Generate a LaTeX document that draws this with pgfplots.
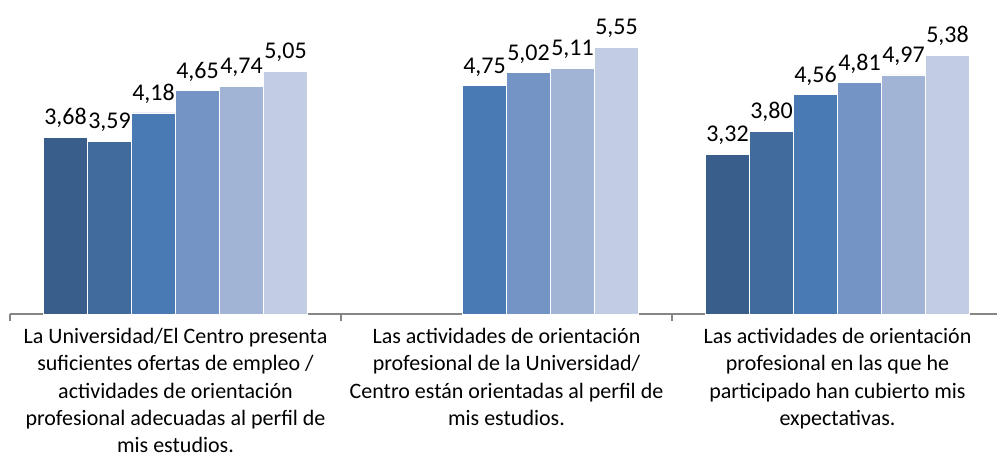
\documentclass[border=0pt]{standalone}
\usepackage{pgfplots}
\pgfplotsset{compat=1.18}
\usepackage{fontspec}
\setmainfont{Carlito}

\definecolor{c1}{HTML}{3A5E8B}
\definecolor{c2}{HTML}{416A9D}
\definecolor{c3}{HTML}{4A7AB4}
\definecolor{c4}{HTML}{7594C6}
\definecolor{c5}{HTML}{A1B4D6}
\definecolor{c6}{HTML}{C2CDE3}
\definecolor{axgray}{HTML}{868686}

\begin{document}
\begin{tikzpicture}
\begin{axis}[
  at={(5pt,73.5pt)}, anchor=south west,
  scale only axis,
  width=496.5pt, height=156.3pt,
  ybar=0pt, bar width=22pt,
  xmin=-0.5, xmax=2.5, ymin=0, ymax=6.5,
  enlarge x limits=false,
  axis x line*=bottom, axis y line=none,
  axis line style={axgray, line width=0.8pt},
  xtick={0,1,2},
  xticklabels={
    {La Universidad/El Centro presenta\\suficientes ofertas de empleo /\\actividades de orientación\\profesional adecuadas al perfil de\\mis estudios.},
    {Las actividades de orientación\\profesional de la Universidad/\\Centro están orientadas al perfil de\\mis estudios.},
    {Las actividades de orientación\\profesional en las que he\\participado han cubierto mis\\expectativas.}},
  major tick length=0pt,
  minor xtick={-0.5,0.5,1.5,2.5},
  minor tick length=3.5pt,
  tick align=outside,
  minor tick style={axgray, line width=0.6pt},
  xticklabel style={align=center, font=\fontsize{11}{13.6}\selectfont, yshift=-6pt, inner sep=1pt},
  ytick=\empty,
  clip=false,
  nodes near coords,
  every node near coord/.append style={font=\fontsize{12}{14}\selectfont, text=black, inner sep=1pt, yshift=3.5pt},
  /pgf/number format/.cd, fixed, fixed zerofill, precision=2, use comma, assume math mode=true,
]
\addplot[fill=c1, draw=white, line width=0.3pt] coordinates {(0,3.68) (2,3.32)};
\addplot[fill=c2, draw=white, line width=0.3pt] coordinates {(0,3.59) (2,3.80)};
\addplot[fill=c3, draw=white, line width=0.3pt] coordinates {(0,4.18) (1,4.75) (2,4.56)};
\addplot[fill=c4, draw=white, line width=0.3pt] coordinates {(0,4.65) (1,5.02) (2,4.81)};
\addplot[fill=c5, draw=white, line width=0.3pt] coordinates {(0,4.74) (1,5.11) (2,4.97)};
\addplot[fill=c6, draw=white, line width=0.3pt] coordinates {(0,5.05) (1,5.55) (2,5.38)};
\end{axis}
\pgfresetboundingbox
\path[use as bounding box] (0,0) rectangle (498.5pt,230.5pt);
\end{tikzpicture}
\end{document}
